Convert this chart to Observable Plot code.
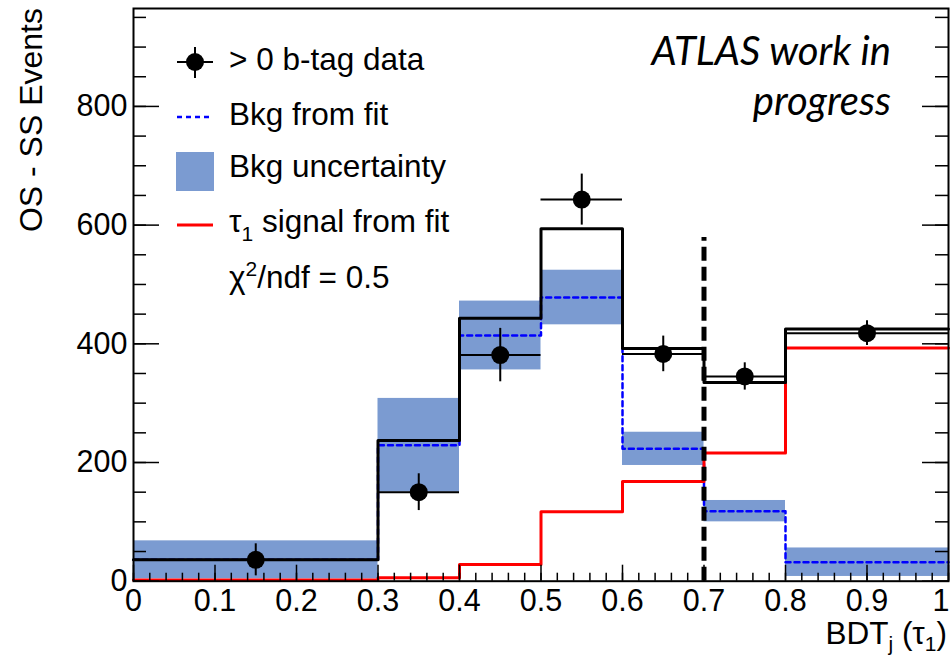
<!DOCTYPE html>
<html><head><meta charset="utf-8">
<script src="https://cdn.jsdelivr.net/npm/d3@7"></script>
<script src="https://cdn.jsdelivr.net/npm/@observablehq/plot@0.6"></script>
<style>body{margin:0;background:#fff}</style>
</head><body><div id="chart"></div>
<script>
// ---- data ----
const binEdges    = [0, 0.3, 0.4, 0.5, 0.6, 0.7, 0.8, 1.0];
const dataValues  = [36, 150, 381, 643, 383, 345, 418];
const dataErrors  = [27, 31, 45, 43, 30, 23, 21];
const bkgValues   = [36, 229, 414, 478, 223, 118, 32];
const bkgUncert   = [32, 79, 58, 46, 28, 18, 24];
const sigValues   = [2, 6, 28, 117, 168, 216, 393];
const totalValues = [36, 237, 443, 594, 392, 335, 425];
const cutValue = 0.7, cutTop = 579;
const yMajor = [0, 200, 400, 600, 800];
const yMinor = d3.range(0, 951, 50);
const xMajor = [0, 0.1, 0.2, 0.3, 0.4, 0.5, 0.6, 0.7, 0.8, 0.9, 1];
const xMinor = d3.range(0, 1.001, 0.02);
const legendLabels = ["> 0 b-tag data", "Bkg from fit", "Bkg uncertainty", "signal from fit", "/ndf = 0.5"];
const yTitle = "OS - SS Events";
const atlasLines = ["ATLAS work in", "progress"];

const bins = binEdges.slice(0, -1).map((lo, i) => ({
  lo, hi: binEdges[i + 1], c: (lo + binEdges[i + 1]) / 2,
  v: dataValues[i], e: dataErrors[i], bkg: bkgValues[i], unc: bkgUncert[i]
}));
const steps = vals => binEdges.map((x, i) => ({x, y: vals[Math.min(i, vals.length - 1)]}));

const FONT = "'Liberation Sans', Arial, Helvetica, sans-serif";
const FS = 30.5;
const LFS = 31.5;
const W = 951, H = 655, ML = 133, MR = 3, MT = 8, MB = 74.3;
const PW = W - ML - MR, PH = H - MT - MB;

const chart = Plot.plot({
  width: W, height: H,
  marginLeft: ML, marginRight: MR, marginTop: MT, marginBottom: MB,
  x: {domain: [0, 1], label: null},
  y: {domain: [0, 965], label: null},
  style: {fontFamily: FONT, background: "white", color: "black"},
  marks: [
    Plot.rect(bins, {x1: "lo", x2: "hi", y1: d => d.bkg - d.unc, y2: d => d.bkg + d.unc, fill: "#7b9bd1"}),
    Plot.line(steps(bkgValues), {x: "x", y: "y", curve: "step-after", stroke: "#0000ff", strokeWidth: 2.5, strokeDasharray: "5,4"}),
    Plot.line(steps(sigValues), {x: "x", y: "y", curve: "step-after", stroke: "#ff0000", strokeWidth: 3}),
    Plot.line(steps(totalValues), {x: "x", y: "y", curve: "step-after", stroke: "black", strokeWidth: 3}),
    Plot.ruleY(bins, {y: "v", x1: "lo", x2: "hi", stroke: "black", strokeWidth: 2}),
    Plot.ruleX(bins, {x: "c", y1: d => d.v - d.e, y2: d => d.v + d.e, stroke: "black", strokeWidth: 2}),
    Plot.dot(bins, {x: "c", y: "v", r: 9, fill: "black", stroke: null}),
    Plot.ruleX([cutValue], {x: d => d, y1: 0, y2: cutTop, stroke: "black", strokeWidth: 5, strokeDasharray: "14,6"}),
    // inward ticks (positions from the scales)
    Plot.ruleY(yMajor, {y: d => d, insetRight: PW - 26, stroke: "black", strokeWidth: 1.5}),
    Plot.ruleY(yMinor, {y: d => d, insetRight: PW - 13, stroke: "black", strokeWidth: 1.5}),
    Plot.ruleY(yMajor, {y: d => d, insetLeft: PW - 26, stroke: "black", strokeWidth: 1.5}),
    Plot.ruleY(yMinor, {y: d => d, insetLeft: PW - 13, stroke: "black", strokeWidth: 1.5}),
    Plot.ruleX(xMajor, {x: d => d, insetTop: PH - 16, stroke: "black", strokeWidth: 1.5}),
    Plot.ruleX(xMinor, {x: d => d, insetTop: PH - 8, stroke: "black", strokeWidth: 1.5}),
    // tick labels
    Plot.axisY({ticks: yMajor, anchor: "left", tickSize: 0, tickPadding: 6, fontSize: FS, label: null, tickFormat: d => String(d)}),
    Plot.axisX({ticks: xMajor.slice(0, -1), anchor: "bottom", tickSize: 0, tickPadding: 8, fontSize: FS, label: null, tickFormat: d => String(+d.toFixed(1))}),
    Plot.axisX({ticks: xMajor.slice(-1), anchor: "bottom", tickSize: 0, tickPadding: 8, fontSize: FS, label: null, textAnchor: "end", dx: 1, tickFormat: d => String(d)}),
    Plot.frame({stroke: "black", strokeWidth: 2})
  ]
});
document.getElementById("chart").appendChild(chart);

// ---- titles, legend, annotation ----
const svg = d3.select(chart);
const g = svg.append("g").attr("font-family", FONT).attr("font-size", LFS).attr("fill", "black").attr("text-anchor", "start");

// y title
g.append("text").attr("transform", "translate(42,8) rotate(-90)").attr("text-anchor", "end")
  .attr("font-size", 32).text(yTitle);

// x title
const xt = g.append("text").attr("x", 947).attr("y", 644).attr("text-anchor", "end").attr("font-size", LFS);
xt.append("tspan").text("BDT");
xt.append("tspan").attr("font-size", 21).attr("dy", 7).text("j");
xt.append("tspan").attr("dy", -7).text(" (τ");
xt.append("tspan").attr("font-size", 21).attr("dy", 7).text("1");
xt.append("tspan").attr("dy", -7).text(")");

// legend
const lx = 229;
g.append("line").attr("x1", 177).attr("x2", 213).attr("y1", 62).attr("y2", 62).attr("stroke", "black").attr("stroke-width", 2);
g.append("line").attr("x1", 195).attr("x2", 195).attr("y1", 47).attr("y2", 78).attr("stroke", "black").attr("stroke-width", 2);
g.append("circle").attr("cx", 195).attr("cy", 62).attr("r", 9).attr("fill", "black");
g.append("text").attr("x", lx).attr("y", 70).text(legendLabels[0]);
g.append("line").attr("x1", 177).attr("x2", 213).attr("y1", 117).attr("y2", 117).attr("stroke", "#0000ff").attr("stroke-width", 2.5).attr("stroke-dasharray", "5,4");
g.append("text").attr("x", lx).attr("y", 125).text(legendLabels[1]);
g.append("rect").attr("x", 176).attr("y", 152).attr("width", 38).attr("height", 39).attr("fill", "#7b9bd1");
g.append("text").attr("x", lx).attr("y", 177).text(legendLabels[2]);
g.append("line").attr("x1", 177).attr("x2", 213).attr("y1", 225).attr("y2", 225).attr("stroke", "#ff0000").attr("stroke-width", 3);
const t4 = g.append("text").attr("x", lx).attr("y", 232);
t4.append("tspan").text("τ");
t4.append("tspan").attr("font-size", 21).attr("dy", 9).text("1");
t4.append("tspan").attr("dy", -9).text(" " + legendLabels[3]);
const t5 = g.append("text").attr("x", lx).attr("y", 288);
t5.append("tspan").text("χ");
t5.append("tspan").attr("font-size", 21).attr("dy", -12).text("2");
t5.append("tspan").attr("dy", 12).text(legendLabels[4]);

// ATLAS annotation
atlasLines.forEach((s, i) => {
  g.append("text").attr("x", 891).attr("y", 65 + 50 * i).attr("text-anchor", "end")
    .attr("font-family", "Lato, 'Open Sans', sans-serif").attr("font-style", "italic").attr("font-size", 40).text(s);
});
</script>
</body></html>
